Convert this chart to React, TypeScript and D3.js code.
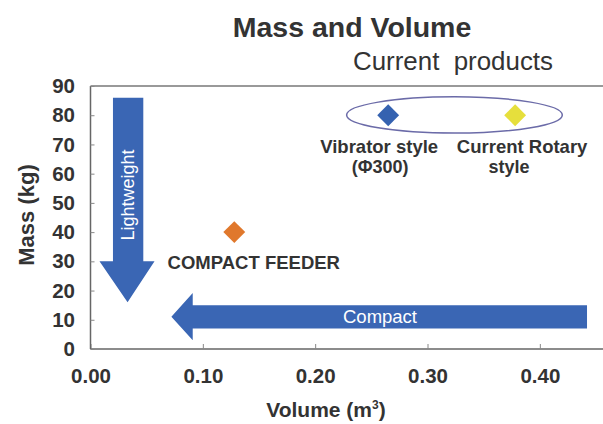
import React, { useRef, useEffect } from 'react'
import * as d3 from 'd3'

// data
const products = ['COMPACT FEEDER', 'Vibrator style', 'Current Rotary style']
const volumes = [0.128, 0.265, 0.378]
const masses = [40, 80, 80]
const colors = ['#e0782c', '#3562b0', '#e6df3c']
const xTicks = [0.0, 0.1, 0.2, 0.3, 0.4]
const yTicks = [0, 10, 20, 30, 40, 50, 60, 70, 80, 90]

// annotation arrows in data units [volume, mass]
const lightArrow: [number, number][] = [
  [0.020, 86], [0.047, 86], [0.047, 30], [0.057, 30], [0.033, 16],
  [0.008, 30], [0.020, 30]
]
const compactArrow: [number, number][] = [
  [0.442, 15], [0.091, 15], [0.091, 19.2], [0.072, 11], [0.091, 3],
  [0.091, 7], [0.442, 7]
]

const W = 603, H = 424
const m = { left: 90.5, right: 596, top: 86, bottom: 349 }

const App = () => {
  const svgRef = useRef(null)

  useEffect(() => {
    const svg = d3.select(svgRef.current)
    svg.selectAll('*').remove()

    const x = d3.scaleLinear().domain([0, 0.45]).range([m.left, m.right])
    const y = d3.scaleLinear().domain([0, 90]).range([m.bottom, m.top])
    const txt = '#333'
    const font = 'Liberation Sans, Arial, sans-serif'

    // titles
    svg.append('text').attr('x', 352).attr('y', 37).attr('text-anchor', 'middle')
      .attr('font-family', font).attr('font-size', 28.5).attr('font-weight', 'bold')
      .attr('fill', txt).text('Mass and Volume')
    svg.append('text').attr('x', 453).attr('y', 70).attr('text-anchor', 'middle')
      .attr('font-family', font).attr('font-size', 26).attr('fill', txt)
      .attr('textLength', 200).attr('lengthAdjust', 'spacingAndGlyphs')
      .attr('xml:space', 'preserve').text('Current  products')

    // frame
    svg.append('line').attr('x1', m.left).attr('x2', W).attr('y1', m.top).attr('y2', m.top)
      .attr('stroke', '#777').attr('stroke-width', 1.3)

    const xAxis = d3.axisBottom(x).tickValues(xTicks).tickSize(-5).tickPadding(19)
      .tickFormat(d3.format('.2f'))
    const gx = svg.append('g').attr('transform', `translate(0,${m.bottom})`).call(xAxis)
    gx.select('.domain').attr('d', `M${m.left},0H${W}`).attr('stroke', '#666').attr('stroke-width', 1.5)

    const yAxis = d3.axisLeft(y).tickValues(yTicks).tickSize(-4).tickPadding(15.5)
    const gy = svg.append('g').attr('transform', `translate(${m.left},0)`).call(yAxis)
    gy.select('.domain').attr('d', `M0,${m.top}V${m.bottom}`).attr('stroke', '#666').attr('stroke-width', 1.5)

    svg.selectAll('.tick line').attr('stroke', '#888')
    svg.selectAll('.tick text').attr('font-family', font).attr('font-size', 20.5)
      .attr('font-weight', 'bold').attr('fill', txt)

    // axis titles
    svg.append('text').attr('x', 326).attr('y', 417).attr('text-anchor', 'middle')
      .attr('font-family', font).attr('font-size', 21).attr('font-weight', 'bold').attr('fill', txt)
      .call(t => {
        t.append('tspan').text('Volume (m')
        t.append('tspan').attr('font-size', 12).attr('dy', -8).text('3')
        t.append('tspan').attr('dy', 8).text(')')
      })
    svg.append('text').attr('transform', `translate(34,215) rotate(-90)`)
      .attr('text-anchor', 'middle').attr('font-family', font).attr('font-size', 22)
      .attr('font-weight', 'bold').attr('fill', txt).text('Mass (kg)')

    // arrows
    const arrowLine = d3.line<[number, number]>().x(d => x(d[0])).y(d => y(d[1]))
    const arrowBlue = '#3a66b4'
    svg.append('path').attr('d', arrowLine(lightArrow) + 'Z').attr('fill', arrowBlue)
    svg.append('path').attr('d', arrowLine(compactArrow) + 'Z').attr('fill', arrowBlue)
    svg.append('text').attr('transform', `translate(${x(0.0335) + 6},195) rotate(-90)`)
      .attr('text-anchor', 'middle').attr('font-family', font).attr('font-size', 18)
      .attr('fill', '#fff').text('Lightweight')
    svg.append('text').attr('x', 380).attr('y', 323).attr('text-anchor', 'middle')
      .attr('font-family', font).attr('font-size', 18.5).attr('fill', '#fff').text('Compact')

    // ellipse around current products
    svg.append('ellipse').attr('cx', x(0.324)).attr('cy', y(80.1))
      .attr('rx', x(0.096) - x(0)).attr('ry', y(0) - y(6.2))
      .attr('fill', 'none').attr('stroke', '#6b6ba8').attr('stroke-width', 1.5)

    // points
    const sym = d3.symbol().type(d3.symbolSquare).size(240)
    svg.selectAll('path.pt').data(products).join('path').attr('class', 'pt')
      .attr('d', sym)
      .attr('transform', (d, i) => `translate(${x(volumes[i])},${y(masses[i])}) rotate(45)`)
      .attr('fill', (d, i) => colors[i])

    // point labels: [index, lines, dx per line, dy]
    const labels: [number, string[], number[], number][] = [
      [0, ['COMPACT FEEDER'], [19.5], 37],
      [1, ['Vibrator style', '(Φ300)'], [-9, -8], 38],
      [2, ['Current Rotary', 'style'], [7, -6], 38]
    ]
    labels.forEach(([i, lines, dxs, dy]) => {
      lines.forEach((l, k) => {
        svg.append('text').attr('text-anchor', 'middle').attr('font-family', font)
          .attr('font-size', k === 0 ? 18.5 : 18).attr('font-weight', 'bold').attr('fill', txt)
          .attr('x', x(volumes[i]) + dxs[k])
          .attr('y', y(masses[i]) + dy + k * 20).text(l)
      })
    })
  }, [])

  return (
    <svg ref={svgRef} width={W} height={H}
      style={{ position: 'absolute', left: 0, top: 0, background: '#fff' }} />
  )
}

export default App
